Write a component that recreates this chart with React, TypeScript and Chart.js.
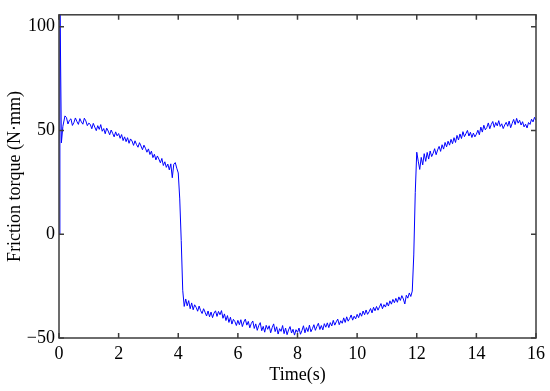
import { useEffect, useRef } from "react";
import { Chart, registerables } from "chart.js";

Chart.register(...registerables);

// Start-up spike (time in s, torque in N·mm)
const spikeTime = [0, 0.03, 0.08, 0.13, 0.2];
const spikeTorque = [0, 118, 44, 52, 57];

// Regularly sampled signal from t = 0.25 s, every 0.05 s
const sampleStart = 0.25;
const sampleStep = 0.05;

// 0.25 – 1.00 s
const torqueSec0 = [56.2, 53.1, 54.9, 55.6, 52.4, 53.8, 56.0, 54.3, 52.9, 55.7, 54.1, 53.0, 55.9, 54.6, 52.3, 53.5];
// 1.05 – 2.00 s
const torqueSec1 = [52.9, 50.8, 53.4, 51.6, 49.9, 52.3, 50.5, 52.8, 49.6, 50.9, 48.4, 51.1, 49.7, 47.9, 50.2, 48.6, 46.9, 49.3, 47.4, 48.5];
// 2.05 – 3.00 s
const torqueSec2 = [46.2, 48.0, 45.1, 46.9, 44.6, 46.5, 43.8, 45.9, 44.9, 42.8, 45.0, 43.2, 41.9, 44.1, 42.5, 40.7, 42.9, 41.4, 39.5, 41.1];
// 3.05 – 4.00 s
const torqueSec3 = [38.4, 40.0, 36.9, 38.5, 35.8, 37.7, 36.2, 34.4, 36.5, 33.1, 34.9, 32.2, 33.8, 31.0, 33.9, 27.2, 33.7, 34.5, 31.8, 29.5];
// 4.05 – 5.00 s
const torqueSec4 = [17, -3, -27, -34.8, -31.2, -34.5, -32.0, -35.9, -33.1, -36.4, -34.0, -35.2, -37.1, -34.6, -36.8, -38.2, -35.9, -37.6, -39.4, -37.0];
// 5.05 – 6.00 s
const torqueSec5 = [-39.8, -37.5, -40.2, -38.0, -36.9, -39.6, -37.2, -38.8, -36.8, -40.5, -38.4, -41.6, -39.2, -42.5, -40.0, -43.3, -41.0, -42.1, -44.0, -41.5];
// 6.05 – 7.00 s
const torqueSec6 = [-43.6, -41.2, -44.5, -42.3, -40.9, -43.8, -42.0, -45.1, -43.0, -41.8, -45.4, -43.2, -46.3, -44.0, -42.6, -46.5, -44.4, -47.2, -43.9, -45.8];
// 7.05 – 8.00 s
const torqueSec7 = [-44.1, -47.5, -45.0, -43.2, -46.9, -44.6, -48.1, -45.5, -46.8, -44.0, -47.9, -45.2, -48.4, -46.1, -44.5, -47.6, -45.8, -48.6, -46.0, -47.3];
// 8.05 – 9.00 s
const torqueSec8 = [-45.2, -48.2, -46.4, -44.1, -47.5, -45.0, -46.9, -43.8, -47.0, -45.5, -43.6, -46.3, -44.4, -42.9, -45.9, -44.0, -46.1, -43.1, -44.8, -42.7];
// 9.05 – 10.00 s
const torqueSec9 = [-45.0, -42.6, -44.2, -41.5, -43.8, -42.2, -40.9, -43.6, -41.7, -42.9, -40.3, -42.5, -39.8, -41.9, -40.6, -38.9, -41.4, -39.5, -40.8, -38.6];
// 10.05 – 11.00 s
const torqueSec10 = [-40.2, -37.9, -39.5, -37.0, -38.8, -36.5, -38.6, -37.4, -35.8, -37.9, -35.2, -36.9, -34.8, -36.6, -35.0, -33.4, -35.9, -33.9, -35.1, -32.9];
// 11.05 – 12.00 s
const torqueSec11 = [-34.6, -32.1, -33.7, -31.4, -33.0, -30.9, -32.8, -30.2, -31.9, -29.6, -31.2, -33.6, -29.4, -30.8, -28.3, -30.0, -27.4, -10, 20, 39.5];
// 12.05 – 13.00 s
const torqueSec12 = [35.2, 31.2, 37.0, 33.4, 38.8, 35.1, 39.4, 36.2, 40.1, 37.4, 39.0, 41.2, 38.3, 40.6, 42.3, 39.9, 43.1, 41.0, 44.2, 42.1];
// 13.05 – 14.00 s
const torqueSec13 = [44.8, 42.9, 45.7, 43.6, 46.5, 44.2, 47.6, 45.4, 48.3, 46.1, 49.4, 47.0, 48.5, 50.0, 47.3, 49.1, 46.6, 48.7, 46.9, 48.2];
// 14.05 – 15.00 s
const torqueSec14 = [50.1, 47.9, 51.6, 49.2, 52.5, 50.3, 51.4, 53.6, 50.8, 52.9, 54.3, 51.5, 53.8, 52.2, 54.7, 51.9, 53.2, 50.9, 52.6, 53.9];
// 15.05 – 16.00 s
const torqueSec15 = [52.0, 54.5, 51.3, 53.4, 55.3, 52.8, 55.8, 53.5, 54.9, 52.6, 54.2, 51.7, 53.0, 51.2, 53.8, 52.9, 55.4, 54.1, 56.3, 54.9];

const xTicks = [0, 2, 4, 6, 8, 10, 12, 14, 16];
const yTicks = [-50, 0, 50, 100];

const xTitle = "Time(s)";
const yTitle = "Friction torque (N·mm)";

const FONT = "'Liberation Serif', 'Times New Roman', 'DejaVu Serif', serif";

const framePlugin = {
  id: "frameTicks",
  afterDatasetsDraw(chart: any) {
    const { ctx, chartArea, scales } = chart;
    const { left, right, top, bottom } = chartArea;
    const x = scales.x;
    const y = scales.y;
    ctx.save();
    ctx.strokeStyle = "#3c3c3c";
    ctx.lineWidth = 1.5;
    ctx.strokeRect(left, top, right - left, bottom - top);
    ctx.beginPath();
    const tl = 5;
    for (const v of xTicks) {
      const px = x.getPixelForValue(v);
      ctx.moveTo(px, bottom);
      ctx.lineTo(px, bottom - tl);
      ctx.moveTo(px, top);
      ctx.lineTo(px, top + tl);
    }
    for (const v of yTicks) {
      const py = y.getPixelForValue(v);
      ctx.moveTo(left, py);
      ctx.lineTo(left + tl, py);
      ctx.moveTo(right, py);
      ctx.lineTo(right - tl, py);
    }
    ctx.stroke();
    ctx.restore();
  },
};

export default function App() {
  const ref = useRef<HTMLCanvasElement | null>(null);

  useEffect(() => {
    if (!ref.current) return;
    const samples = [
      ...torqueSec0, ...torqueSec1, ...torqueSec2, ...torqueSec3,
      ...torqueSec4, ...torqueSec5, ...torqueSec6, ...torqueSec7,
      ...torqueSec8, ...torqueSec9, ...torqueSec10, ...torqueSec11,
      ...torqueSec12, ...torqueSec13, ...torqueSec14, ...torqueSec15,
    ];
    const points = [
      ...spikeTime.map((t, i) => ({ x: t, y: spikeTorque[i] })),
      ...samples.map((v, i) => ({ x: +(sampleStart + i * sampleStep).toFixed(2), y: v })),
    ];

    const chart = new Chart(ref.current, {
      type: "line",
      data: {
        datasets: [
          {
            data: points,
            borderColor: "#0000ff",
            borderWidth: 1,
            pointRadius: 0,
            tension: 0,
            fill: false,
          },
        ],
      },
      options: {
        animation: false,
        responsive: false,
        maintainAspectRatio: false,
        layout: { padding: { top: 8, right: 13, left: 0, bottom: 0 } },
        plugins: { legend: { display: false }, tooltip: { enabled: false } },
        scales: {
          x: {
            type: "linear",
            min: 0,
            max: 16,
            afterBuildTicks: (s: any) => {
              s.ticks = xTicks.map((v) => ({ value: v }));
            },
            afterFit: (s: any) => {
              s.height = 53;
            },
            grid: { display: false, drawTicks: false },
            border: { display: false },
            ticks: {
              color: "#000",
              padding: 5,
              maxRotation: 0,
              font: { family: FONT, size: 18 },
            },
            title: {
              display: true,
              text: xTitle,
              color: "#000",
              padding: { top: 0, bottom: 5 },
              font: { family: FONT, size: 18 },
            },
          },
          y: {
            type: "linear",
            min: -50,
            max: 105.7,
            afterBuildTicks: (s: any) => {
              s.ticks = yTicks.map((v) => ({ value: v }));
            },
            afterFit: (s: any) => {
              s.width = 59;
            },
            grid: { display: false, drawTicks: false },
            border: { display: false },
            ticks: {
              color: "#000",
              padding: 4,
              font: { family: FONT, size: 18 },
              callback: (v: any) => String(v).replace("-", "\u2212"),
            },
            title: {
              display: true,
              text: yTitle,
              color: "#000",
              padding: { top: 4, bottom: 0 },
              font: { family: FONT, size: 18 },
            },
          },
        },
      },
      plugins: [framePlugin],
    });
    return () => chart.destroy();
  }, []);

  return (
    <div style={{ position: "fixed", left: 0, top: 0, width: 550, height: 391, background: "#fff" }}>
      <canvas ref={ref} width={550} height={391} style={{ display: "block" }} />
    </div>
  );
}
